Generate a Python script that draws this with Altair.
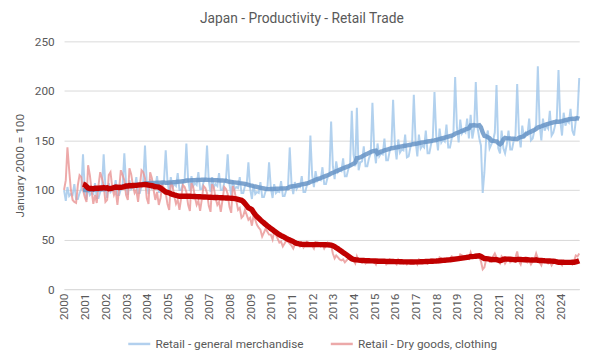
import altair as alt
import pandas as pd

years = list(range(2000, 2025))
months = list(range(1, 13))
series_names = ["Retail - general merchandise", "Retail - Dry goods, clothing"]

# Monthly index, January 2000 = 100
general_merchandise = [
    100, 89, 103, 94, 96, 95, 106, 91, 91, 97, 101, 136,     # 2000
    100, 90, 104, 95, 97, 96, 107, 92, 92, 98, 102, 136,     # 2001
    103, 92, 107, 98, 100, 99, 110, 95, 95, 101, 105, 137,   # 2002
    106, 95, 110, 101, 103, 102, 113, 97, 97, 104, 108, 145, # 2003
    107, 96, 111, 102, 104, 103, 114, 98, 98, 105, 109, 140, # 2004
    109, 98, 113, 103, 106, 104, 117, 100, 100, 107, 111, 147,  # 2005
    110, 99, 114, 104, 107, 105, 118, 101, 101, 108, 112, 145,  # 2006
    109, 98, 113, 103, 106, 104, 117, 100, 100, 107, 111, 136,  # 2007
    106, 95, 110, 101, 103, 102, 113, 97, 97, 104, 106, 128,    # 2008
    101, 91, 105, 96, 98, 97, 108, 93, 93, 99, 102, 128,        # 2009
    102, 92, 106, 97, 99, 98, 109, 94, 94, 100, 104, 143,       # 2010
    107, 96, 108, 101, 104, 103, 114, 98, 98, 105, 109, 155,    # 2011
    115, 103, 119, 109, 111, 110, 123, 106, 106, 113, 117, 169, # 2012
    124, 111, 129, 118, 120, 119, 132, 114, 114, 121, 126, 180, # 2013
    136, 124, 183, 120, 128, 129, 144, 124, 124, 132, 137, 188, # 2014
    142, 127, 147, 134, 137, 136, 152, 130, 130, 139, 144, 191, # 2015
    146, 131, 151, 138, 141, 140, 156, 133, 134, 143, 148, 196, # 2016
    150, 134, 156, 142, 145, 143, 160, 137, 137, 146, 152, 199, # 2017
    155, 140, 162, 148, 151, 149, 166, 143, 143, 152, 158, 214, # 2018
    164, 148, 171, 157, 160, 158, 172, 152, 176, 152, 162, 209, # 2019
    163, 152, 145, 97, 118, 152, 160, 142, 146, 150, 158, 206,  # 2020
    142, 137, 160, 142, 137, 146, 160, 141, 141, 150, 155, 207, # 2021
    158, 143, 165, 152, 158, 156, 172, 150, 152, 160, 166, 225, # 2022
    166, 150, 172, 160, 165, 162, 180, 155, 158, 165, 172, 221, # 2023
    170, 155, 178, 165, 170, 168, 182, 160, 155, 170, 176, 213, # 2024
]

dry_goods_clothing = [
    100, 110, 143, 120, 100, 90, 88, 87, 105, 115, 113, 100,  # 2000
    93, 88, 125, 115, 100, 86, 95, 87, 105, 118, 112, 105,    # 2001
    88, 90, 115, 118, 103, 95, 100, 85, 102, 120, 115, 110,   # 2002
    95, 90, 122, 116, 105, 97, 100, 88, 104, 120, 118, 112,   # 2003
    92, 86, 118, 112, 100, 90, 98, 85, 92, 105, 102, 97,      # 2004
    86, 80, 108, 104, 94, 86, 90, 80, 92, 105, 103, 98,       # 2005
    85, 79, 107, 103, 93, 85, 89, 79, 91, 104, 102, 97,       # 2006
    84, 78, 106, 102, 92, 85, 88, 78, 90, 103, 101, 96,       # 2007
    83, 77, 104, 99, 89, 80, 82, 72, 74, 80, 75, 70,          # 2008
    72, 64, 74, 70, 65, 62, 60, 53, 57, 61, 58, 55,           # 2009
    55, 50, 58, 55, 51, 47, 48, 43, 46, 49, 48, 46,           # 2010
    44, 41, 45, 47, 46, 43, 45, 42, 45, 48, 47, 46,           # 2011
    44, 41, 47, 46, 45, 43, 45, 41, 44, 47, 46, 44,           # 2012
    36, 31, 34, 32, 30, 29, 30, 27, 29, 31, 30, 29,           # 2013
    29, 26, 33, 28, 28, 27, 29, 26, 28, 30, 29, 29,           # 2014
    28, 25, 30, 29, 28, 27, 28, 25, 27, 30, 29, 28,           # 2015
    27, 25, 30, 28, 27, 26, 28, 25, 27, 29, 29, 28,           # 2016
    28, 25, 30, 29, 28, 27, 29, 26, 28, 30, 30, 29,           # 2017
    29, 27, 32, 31, 30, 29, 31, 28, 30, 33, 32, 32,           # 2018
    32, 30, 35, 34, 33, 32, 34, 31, 37, 32, 34, 35,           # 2019
    34, 32, 28, 20, 22, 30, 32, 28, 30, 33, 36, 32,           # 2020
    28, 26, 33, 31, 26, 29, 31, 27, 28, 31, 32, 38,           # 2021
    28, 25, 31, 30, 28, 27, 29, 25, 28, 30, 36, 31,           # 2022
    27, 24, 30, 28, 27, 26, 28, 24, 27, 29, 28, 28,           # 2023
    26, 24, 29, 28, 27, 26, 28, 25, 28, 34, 33, 36,           # 2024
]

y_ticks = [0, 50, 100, 150, 200, 250]

dates = [f"{y}-{m:02d}-01" for y in years for m in months]
n = len(dates)
df = pd.DataFrame({
    "date": dates * 2,
    "value": general_merchandise + dry_goods_clothing,
    "series": [series_names[0]] * n + [series_names[1]] * n,
})

FONT = "Roboto"
GREY = "#595959"

x_enc = alt.X(
    "utcyearmonth(date):T",
    scale=alt.Scale(domain=[alt.DateTime(year=2000, month=1, date=1, utc=True),
                            alt.DateTime(year=2024, month=12, date=1, utc=True)]),
    axis=alt.Axis(
        title=None, format="%Y", labelAngle=-90,
        values=[alt.DateTime(year=y, month=1, date=1, utc=True) for y in years],
        grid=False, ticks=False, domain=True, domainColor="#d9d9d9",
        labelFontSize=12, labelColor=GREY, labelFont=FONT, labelPadding=4,
    ),
)

y_axis = alt.Axis(
    values=y_ticks, title="January 2000 = 100", titleFontSize=12, titleFont=FONT,
    titleColor=GREY, titleFontWeight="normal", titlePadding=8,
    labelFontSize=12, labelFont=FONT, labelColor=GREY, labelPadding=10,
    ticks=False, domain=False, grid=True, gridColor="#d9d9d9",
)

base = alt.Chart(df)

raw = base.mark_line(strokeWidth=2, opacity=0.8).encode(
    x=x_enc,
    y=alt.Y("value:Q", scale=alt.Scale(domain=[0, 250]), axis=y_axis),
    color=alt.Color(
        "series:N",
        scale=alt.Scale(domain=series_names, range=["#9fc5ea", "#e89494"]),
        legend=alt.Legend(
            title=None, orient="none", legendX=64, legendY=295, direction="horizontal",
            symbolType="stroke", symbolStrokeWidth=2.5, symbolSize=500,
            labelFontSize=12, labelFont=FONT, labelColor=GREY, columnPadding=22,
        ),
    ),
)

def moving_average(name, color, width, opacity):
    return base.transform_filter(
        alt.datum.series == name
    ).transform_window(
        ma="mean(value)", cnt="count()", frame=[-11, 0], sort=[alt.SortField("date")]
    ).transform_filter(
        alt.datum.cnt == 12
    ).mark_line(color=color, strokeWidth=width, opacity=opacity).encode(
        x=x_enc,
        y=alt.Y("ma:Q", scale=alt.Scale(domain=[0, 250])),
    )

ma_blue = moving_average(series_names[0], "#6794c6", 4.5, 0.85)
ma_red = moving_average(series_names[1], "#c00000", 5.5, 1.0)

chart = alt.layer(raw, ma_blue, ma_red).properties(
    width=524, height=252,
    title=alt.TitleParams("Japan - Productivity - Retail Trade", fontSize=14, font=FONT,
                          fontWeight="normal", color=GREY, frame="bounds", offset=10),
    padding={"left": 5, "top": 1, "right": 2, "bottom": 0},
).configure_view(stroke=None)

chart.save("out.html", embed_options={"renderer": "svg", "actions": False})
